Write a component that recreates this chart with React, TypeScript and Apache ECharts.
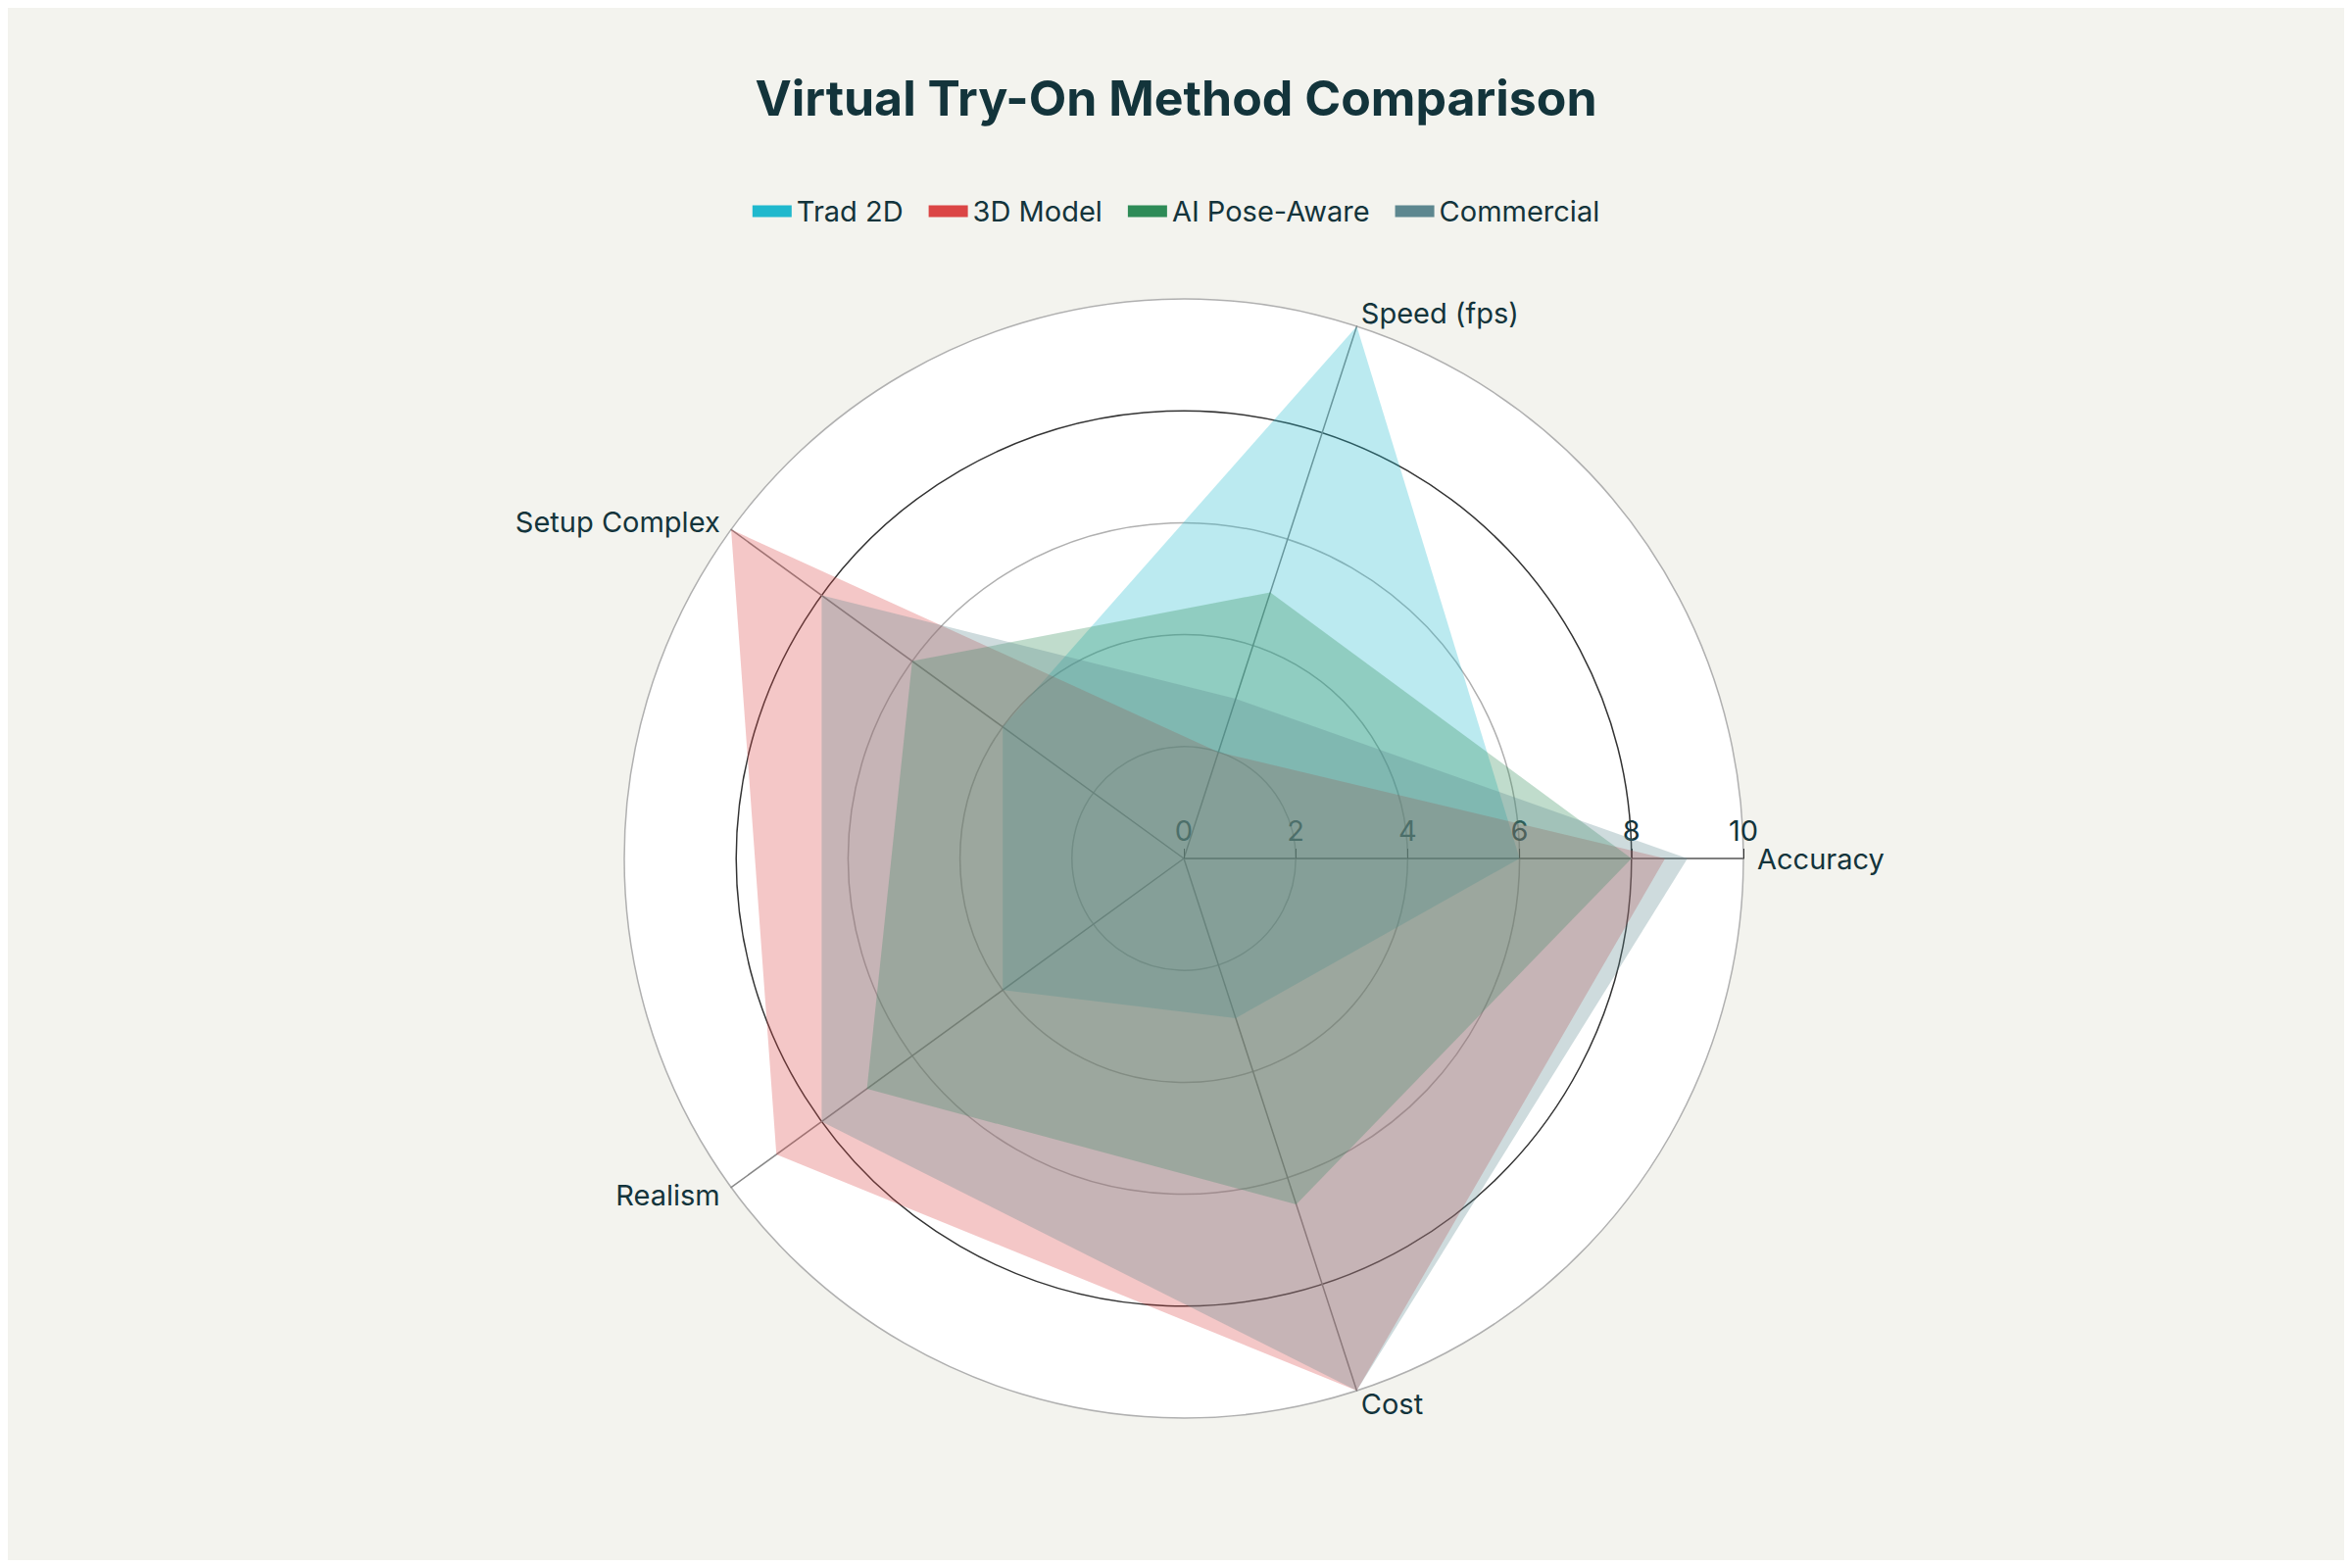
import { useEffect, useRef } from "react";
import * as echarts from "echarts";

const indicators = ["Accuracy", "Speed (fps)", "Setup Complex", "Realism", "Cost"];
const seriesNames = ["Trad 2D", "3D Model", "AI Pose-Aware", "Commercial"];
const trad2d = [6, 10, 4, 4, 3];
const model3d = [8.6, 2, 10, 9, 10];
const aiPose = [8, 5, 6, 7, 6.5];
const commercial = [9, 3, 8, 8, 10];
const colors = ["#1FB8CD", "#DB4545", "#2E8B57", "#5D878F"];
const radiusTicks = ["0", "2", "4", "6", "8", "10"];

const App = () => {
  const chartRef = useRef<HTMLDivElement>(null);

  useEffect(() => {
    const chart = echarts.init(chartRef.current!, null, { renderer: "svg" });
    const values = [trad2d, model3d, aiPose, commercial];
    const textColor = "#13343b";
    chart.setOption({
      animation: false,
      backgroundColor: "#f3f3ee",
      textStyle: { fontFamily: "Inter, 'Noto Sans', sans-serif" },
      title: {
        text: "Virtual Try-On Method Comparison",
        left: "center",
        top: 62,
        textStyle: { fontSize: 50, fontWeight: "bold", color: textColor },
      },
      legend: {
        top: 188,
        left: "center",
        data: seriesNames,
        icon: "rect",
        itemWidth: 40,
        itemHeight: 12,
        itemGap: 26,
        textStyle: { fontSize: 29, color: textColor },
      },
      radar: {
        center: [1200, 868],
        radius: 571,
        startAngle: 0,
        shape: "circle",
        splitNumber: 5,
        indicator: indicators.map((n) => ({ name: n, min: 0, max: 10 })),
        axisName: { color: textColor, fontSize: 29 },
        nameGap: 14,
        splitArea: { areaStyle: { color: ["#ffffff"] } },
        splitLine: {
          lineStyle: { color: ["#b0b0b0", "#b0b0b0", "#b0b0b0", "#b0b0b0", "#333333"], width: 1.5 },
        },
        axisLine: { lineStyle: { color: "#888888", width: 1.5 } },
      },
      polar: { center: [1200, 868], radius: 571 },
      angleAxis: { startAngle: 0, show: false, type: "value", min: 0, max: 360 },
      radiusAxis: {
        min: 0,
        max: 10,
        interval: 2,
        axisLine: { show: true, lineStyle: { color: "#333333", width: 1.5 } },
        axisTick: { show: true, length: 10, lineStyle: { color: "#333333" } },
        splitLine: { show: false },
        axisLabel: {
          fontSize: 29,
          color: textColor,
          margin: 14,
          formatter: (v: number) => radiusTicks[v / 2] ?? "",
        },
      },
      series: [
        {
          type: "radar",
          symbol: "none",
          data: values.map((v, i) => ({
            name: seriesNames[i],
            value: v,
            itemStyle: { color: colors[i] },
            lineStyle: { width: 0, color: colors[i] },
            areaStyle: { color: colors[i], opacity: 0.3 },
          })),
        },
      ],
    });
    return () => chart.dispose();
  }, []);

  return <div ref={chartRef} style={{ width: 2384, height: 1584 }} />;
};

export default App;
